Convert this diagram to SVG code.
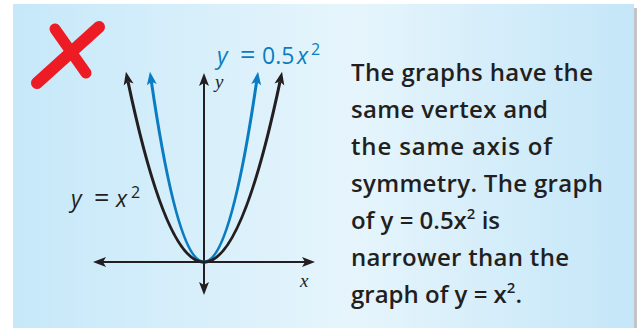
<svg xmlns="http://www.w3.org/2000/svg" width="637" height="328" viewBox="0 0 637 328">
<defs>
<linearGradient id="bg" x1="13" y1="0" x2="634" y2="0" gradientUnits="userSpaceOnUse">
<stop offset="0" stop-color="#c6e8f9"/>
<stop offset="0.55" stop-color="#e6f5fc"/>
<stop offset="1" stop-color="#c4e6f8"/>
</linearGradient>
<marker id="ab" markerUnits="userSpaceOnUse" markerWidth="16" markerHeight="12" viewBox="0 -6 16 12" refX="3" refY="0" orient="auto-start-reverse">
<path d="M0,-5 L13,0 L0,5 L3,0 Z" fill="#231f20"/>
</marker>
<marker id="abl" markerUnits="userSpaceOnUse" markerWidth="16" markerHeight="12" viewBox="0 -6 16 12" refX="3" refY="0" orient="auto-start-reverse">
<path d="M0,-5 L13,0 L0,5 L3,0 Z" fill="#0a7dc2"/>
</marker>
</defs>
<style>
.axis{fill:none;stroke:#231f20;stroke-width:2;marker-start:url(#ab);marker-end:url(#ab)}
.blk{fill:none;stroke:#231f20;stroke-width:3;marker-start:url(#ab);marker-end:url(#ab)}
.blu{fill:none;stroke:#0a7dc2;stroke-width:3;marker-start:url(#abl);marker-end:url(#abl)}
.lbl{font-family:"Open Sans","Noto Sans",sans-serif;font-size:23px}
.it{font-style:italic}
.eq{font-size:27px}
.ax{font-family:"Liberation Serif",serif;font-style:italic;font-size:19px;fill:#231f20}
.note{font-family:"Open Sans","Noto Sans",sans-serif;font-weight:600;font-size:24px;fill:#231f20}
</style>
<rect x="13" y="4" width="621" height="324" fill="url(#bg)"/>
<rect x="634" y="8" width="3" height="320" fill="#c4c4c4"/>
<g id="red-x">
<path d="M37,83 L99,27" stroke="#ed1c24" stroke-width="12" stroke-linecap="round" fill="none"/>
<path d="M55,29 L86,73" stroke="#ed1c24" stroke-width="11" stroke-linecap="round" fill="none"/>
</g>
<g id="connectors">
<path class="axis" d="M103,262 L305,262"/>
<path class="axis" d="M204,83 L204,285"/>
<path class="blu" d="M151.4,81.7 Q204,442.3 256.6,81.7"/>
<path class="blk" d="M128,81.6 Q204,442.8 280,81.6"/>
</g>
<g id="labels">
<text class="lbl" y="64" fill="#0a7dc2"><tspan class="it" x="217">y</tspan><tspan class="eq" x="240">=</tspan><tspan x="262">0.5</tspan><tspan class="it" x="297">x</tspan><tspan font-size="16" x="311" y="55">2</tspan></text>
<text class="lbl" y="207" fill="#231f20"><tspan class="it" x="71">y</tspan><tspan class="eq" x="94">=</tspan><tspan class="it" x="116">x</tspan><tspan font-size="16" x="131" y="198">2</tspan></text>
<text class="ax" x="215" y="88">y</text>
<text class="ax" x="300" y="287">x</text>
</g>
<g id="note">
<text class="note" x="351" y="81" textLength="242">The graphs have the</text>
<text class="note" x="351" y="118" textLength="197">same vertex and</text>
<text class="note" x="351" y="155" textLength="201">the same axis of</text>
<text class="note" x="351" y="192" textLength="252">symmetry. The graph</text>
<text class="note" x="351" y="229">of y = 0.5x<tspan font-size="15" dy="-10">2</tspan><tspan dy="10"> is</tspan></text>
<text class="note" x="351" y="266" textLength="218">narrower than the</text>
<text class="note" x="351" y="303">graph of y = x<tspan font-size="15" dy="-10">2</tspan><tspan dy="10">.</tspan></text>
</g>
</svg>
